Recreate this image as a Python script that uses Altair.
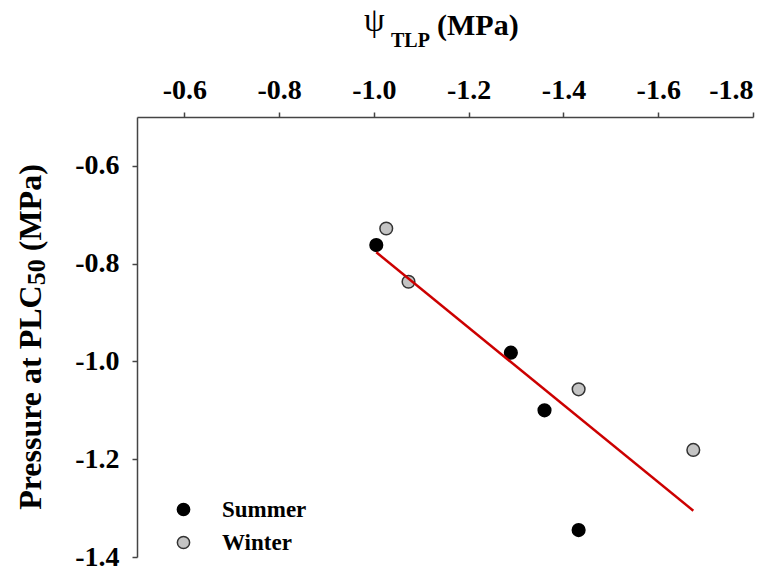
import altair as alt
import pandas as pd

# ---- data ----
season = ["Summer", "Summer", "Summer", "Summer", "Winter", "Winter", "Winter", "Winter"]
psi_tlp = [-1.005, -1.289, -1.360, -1.432, -1.026, -1.073, -1.432, -1.674]
p50 = [-0.762, -0.982, -1.100, -1.345, -0.728, -0.837, -1.057, -1.181]

x_ticks = [-0.6, -0.8, -1.0, -1.2, -1.4, -1.6, -1.8]
y_ticks = [-0.6, -0.8, -1.0, -1.2, -1.4]
x_domain = [-1.8, -0.5]
y_domain = [-1.4, -0.5]

x_title_parts = ["ψ", "TLP", "(MPa)"]
y_title_parts = ["Pressure at PLC", "50", "(MPa)"]

df = pd.DataFrame({"season": season, "psi": psi_tlp, "p50": p50})

W, H = 616, 440
LEFT, TOP = 137, 117
FONT = "Liberation Serif"
AX = "#444444"

label_expr = "'-' + format(abs(datum.value), '.1f')"

x_scale = alt.Scale(domain=x_domain, reverse=True, nice=False, zero=False)
y_scale = alt.Scale(domain=y_domain, nice=False, zero=False)

x_axis = alt.Axis(orient="top", values=x_ticks, labelExpr=label_expr, title=None,
                  grid=False, domainColor=AX, tickColor=AX, domainWidth=1.5,
                  tickWidth=1.5, tickSize=5, labelFont=FONT, labelFontSize=28,
                  labelFontWeight="bold", labelColor="black", labelPadding=8)
y_axis = alt.Axis(orient="left", values=y_ticks, labelExpr=label_expr, title=None,
                  grid=False, domainColor=AX, tickColor=AX, domainWidth=1.5,
                  tickWidth=1.5, tickSize=5, labelFont=FONT, labelFontSize=28,
                  labelFontWeight="bold", labelColor="black", labelPadding=13)

leg = alt.Legend(orient="none", legendX=35, legendY=381, title=None,
                 labelFont=FONT, labelFontSize=23, labelFontWeight="bold",
                 labelColor="black", symbolSize=150, symbolStrokeWidth=1.5,
                 labelOffset=27, rowPadding=9, padding=0, symbolType="circle")

points = alt.Chart(df).mark_circle(size=160, opacity=1, strokeWidth=1.5).encode(
    x=alt.X("psi:Q", scale=x_scale, axis=x_axis),
    y=alt.Y("p50:Q", scale=y_scale, axis=y_axis),
    fill=alt.Fill("season:N", scale=alt.Scale(domain=["Summer", "Winter"],
                                              range=["#000000", "#c4c4c4"]), legend=leg),
    stroke=alt.Stroke("season:N", scale=alt.Scale(domain=["Summer", "Winter"],
                                                  range=["#000000", "#333333"]), legend=leg),
)

fit = alt.Chart(df).transform_regression("psi", "p50").mark_line(
    color="#cc0000", strokeWidth=2.5).encode(
    x=alt.X("psi:Q", scale=x_scale),
    y=alt.Y("p50:Q", scale=y_scale),
)

def label(text, x, y, size, weight="bold", angle=0, align="left"):
    kw = dict(font=FONT, fontSize=size, fontWeight=weight, color="black",
              align=align, baseline="alphabetic")
    if angle:
        kw["angle"] = angle
    return alt.Chart(pd.DataFrame({"t": [text]})).mark_text(**kw).encode(
        text="t:N", x=alt.value(x - LEFT), y=alt.value(y - TOP))

F = 32
len1 = 7.054 * F
sub = 26
anchor1 = 511 - len1
anchor2 = anchor1 - 1.0 * sub - 0.25 * F

titles = [
    label(x_title_parts[0], 364, 31, 33, weight="normal"),
    label(x_title_parts[1], 391, 47, 20),
    label(x_title_parts[2], 437, 35, 30),
    label(y_title_parts[0], 41, anchor1, F, angle=270, align="right"),
    label(y_title_parts[1], 45, anchor1, sub, angle=270, align="left"),
    label(y_title_parts[2], 41, anchor2, F, angle=270, align="left"),
]

chart = alt.layer(points, fit, *titles).properties(
    width=W, height=H,
    autosize=alt.AutoSizeParams(type="none"),
    padding={"left": LEFT, "top": TOP, "right": 773 - LEFT - W, "bottom": 570 - TOP - H},
    background="white",
).configure_view(stroke=None)

chart.save("out.html", embed_options={"renderer": "svg", "actions": False})
